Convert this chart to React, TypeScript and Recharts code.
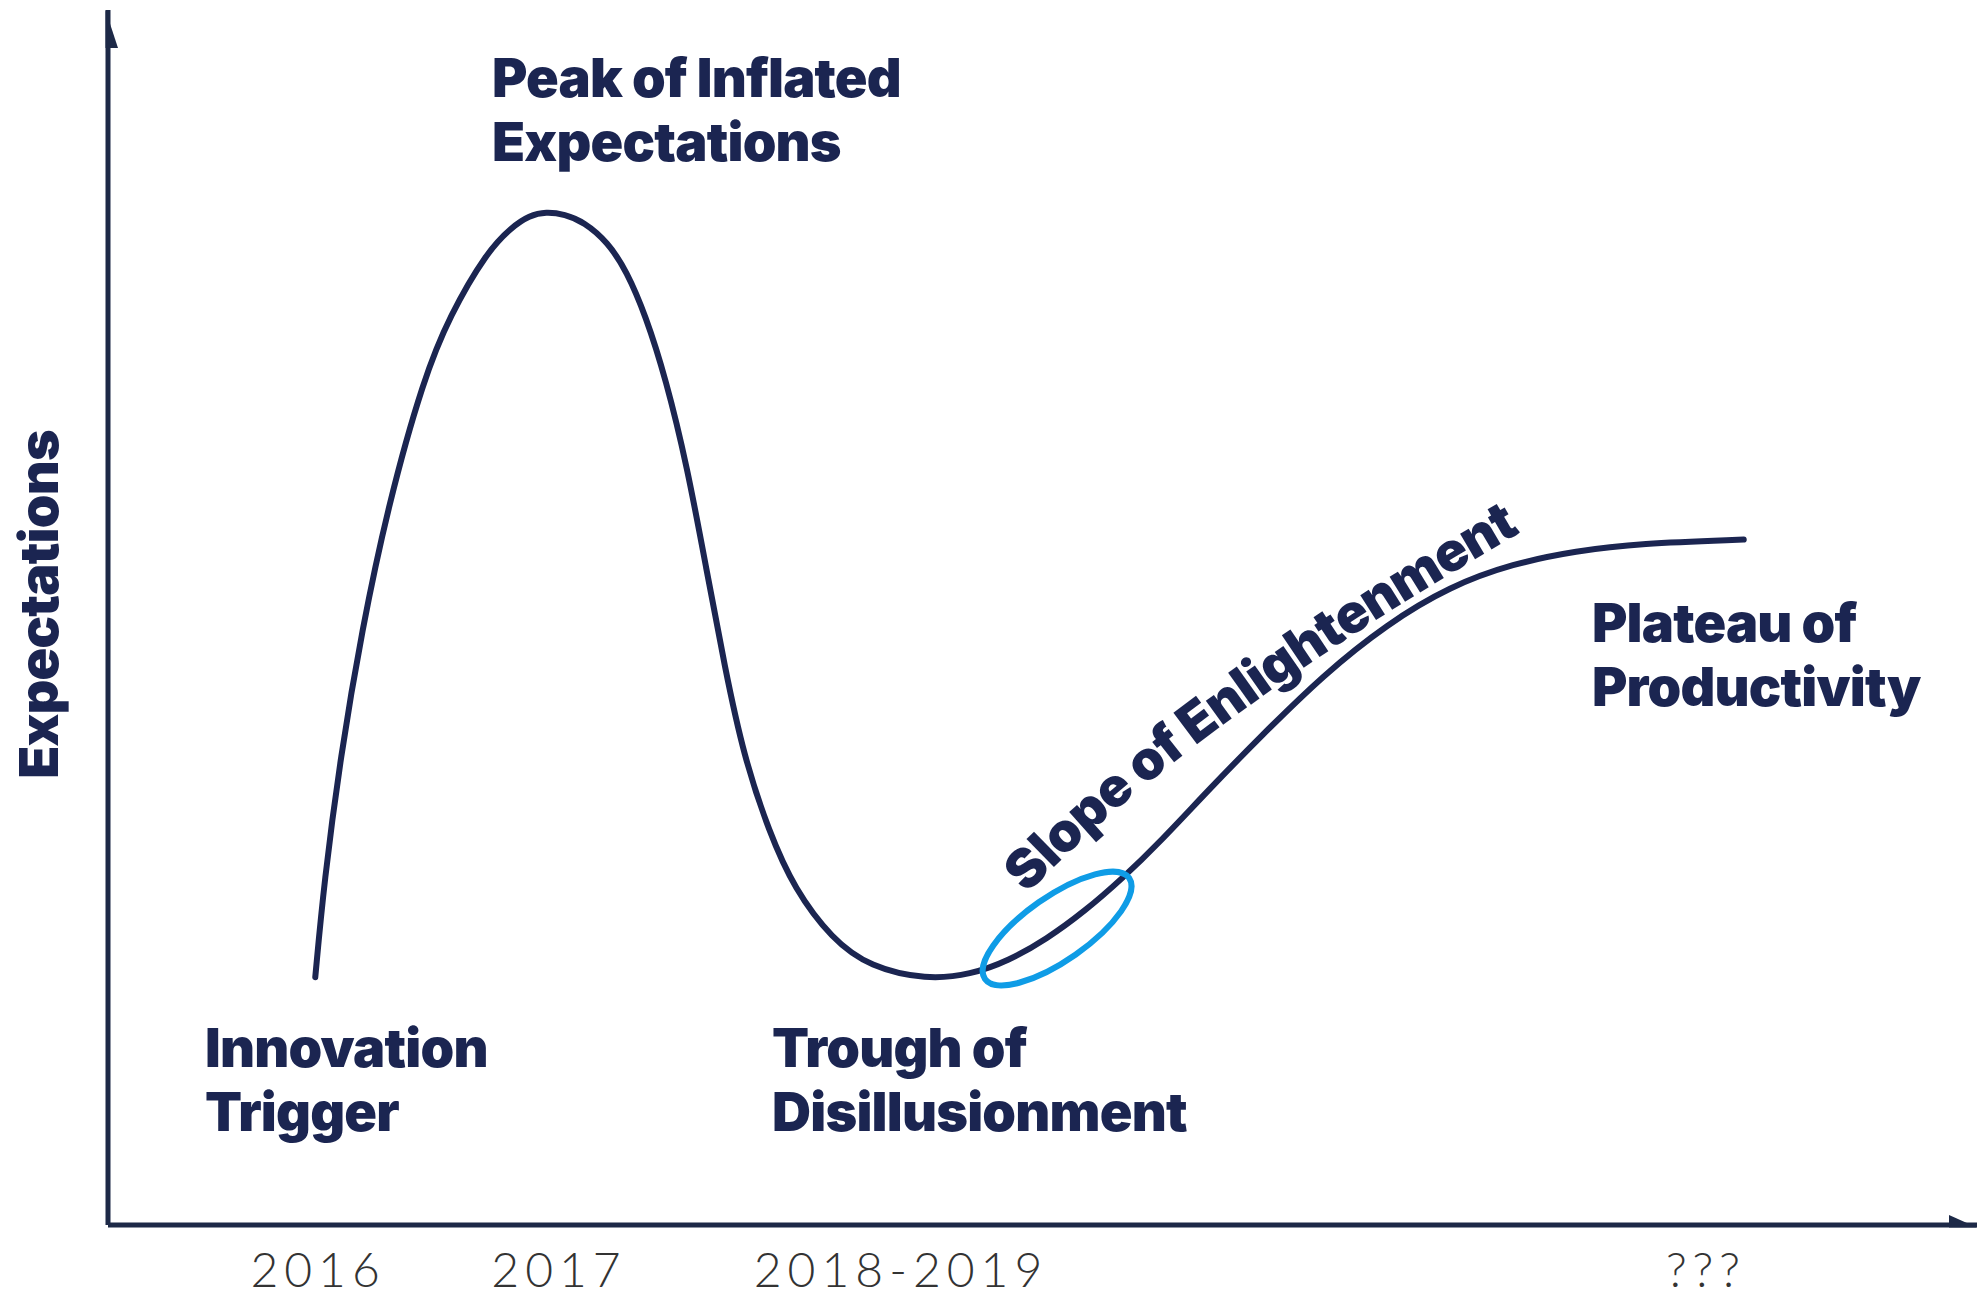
import React from 'react';
import { ComposedChart, Line, XAxis, YAxis, ReferenceDot } from 'recharts';

// ---- data (x: time units 0..100, y: expectations 0..100) ----
const curveX = [11.09, 11.56, 12.44, 13.58, 15.0, 16.89, 18.3, 20.26, 21.61, 22.55, 23.43, 24.44, 25.46, 26.74, 27.75, 28.76, 29.84, 30.99, 32.0, 33.01, 34.02, 35.37, 36.72, 38.74, 40.77, 43.8, 46.16, 48.19, 50.21, 52.24, 54.26, 56.28, 58.98, 61.68, 65.05, 68.43, 71.8, 75.17, 78.55, 81.92, 87.52];
const curveY = [20.4, 28.19, 38.56, 48.94, 59.32, 69.69, 74.88, 80.07, 82.14, 83.08, 83.39, 83.18, 82.56, 80.9, 78.51, 74.88, 69.69, 62.43, 54.13, 45.83, 38.56, 32.34, 27.67, 23.52, 21.23, 20.19, 20.61, 21.75, 23.52, 25.8, 28.5, 31.51, 35.97, 40.22, 45.31, 49.46, 52.57, 54.44, 55.48, 56.1, 56.41];

const tickPositions = [11.24, 24.13, 42.43, 85.5];
const tickLabels = ['2016', '2017', '2018-2019', '???'];

const phaseLines = [
  ['Peak of Inflated', 'Expectations'],
  ['Innovation', 'Trigger'],
  ['Trough of', 'Disillusionment'],
  ['Plateau of', 'Productivity'],
];
const phaseX = [20.55, 5.19, 35.53, 79.4];
const phaseY = [92.84, 13.0, 13.0, 47.98];

const slopeLabel = 'Slope of Enlightenment';
const slopeX = 62.41;
const slopeY = 42.06;

const highlightX = 50.78;
const highlightY = 24.4;

const yAxisTitle = 'Expectations';

const data = curveX.map((x, i) => ({ x, y: curveY[i] }));

const NAVY = '#1b2551';
const AXIS = '#1d2947';
const BLUE = '#0f9ce6';
const LABEL_FONT = 'Inter, "DejaVu Sans", sans-serif';
const FS = 54;
const LH = 64;
const LW = 900;
const LS = -0.8;

const tickFmt = (v: number) => {
  const i = tickPositions.indexOf(v);
  return i >= 0 ? tickLabels[i] : '';
};

const PhaseShape = (lines: string[]) => (props: any) => {
  const { cx, cy } = props;
  return (
    <text x={cx} y={cy} fill={NAVY} fontFamily={LABEL_FONT} fontWeight={LW} fontSize={FS} letterSpacing={LS}>
      {lines.map((l, i) => (
        <tspan key={i} x={cx} dy={i === 0 ? 0 : LH}>{l}</tspan>
      ))}
    </text>
  );
};

const SlopeShape = (props: any) => {
  const { cx, cy } = props;
  const d = `M${cx - 250.5},${cy + 184} Q${cx - 91.5},${cy + 13.5} ${cx + 250.5},${cy - 184}`;
  return (
    <g>
      <defs>
        <path id="slopeTextPath" d={d} fill="none" />
      </defs>
      <text fill={NAVY} fontFamily={LABEL_FONT} fontWeight={LW} fontSize={FS} letterSpacing={LS}>
        <textPath href="#slopeTextPath" startOffset="50%" textAnchor="middle">
          {slopeLabel}
        </textPath>
      </text>
    </g>
  );
};

const EllipseShape = (props: any) => {
  const { cx, cy } = props;
  return (
    <ellipse cx={cx} cy={cy} rx={88} ry={32} fill="none" stroke={BLUE} strokeWidth={6}
      transform={`rotate(-35 ${cx} ${cy})`} />
  );
};

const YArrow = (props: any) => {
  const { cx, cy } = props;
  return <path d={`M${cx - 2.5},${cy} L${cx + 10},${cy + 38} L${cx - 2.5},${cy + 38} Z`} fill={AXIS} />;
};

const XArrow = (props: any) => {
  const { cx, cy } = props;
  return <path d={`M${cx},${cy + 2.5} L${cx - 28},${cy - 10} L${cx - 28},${cy + 2.5} Z`} fill={AXIS} />;
};

const YTitle = (props: any) => {
  const vb = props.viewBox || { x: 0, y: 0, width: 0, height: 0 };
  const x = 58;
  const y = vb.y + vb.height / 2 - 13;
  return (
    <text x={x} y={y} fill={NAVY} fontFamily={LABEL_FONT} fontWeight={LW} fontSize={FS} letterSpacing={LS}
      textAnchor="middle" transform={`rotate(-90 ${x} ${y})`}>
      {yAxisTitle}
    </text>
  );
};

export default function App() {
  return (
    <div style={{ position: 'absolute', left: 0, top: 0, width: 1977, height: 1295, background: '#fff' }}>
      <ComposedChart width={1977} height={1295} data={data} margin={{ top: 10, right: 0, bottom: 0, left: 0 }}>
        <XAxis
          dataKey="x"
          type="number"
          domain={[0, 100]}
          ticks={tickPositions}
          interval={0}
          tickFormatter={tickFmt}
          tickLine={false}
          tickMargin={22}
          height={70}
          axisLine={{ stroke: AXIS, strokeWidth: 5 }}
          tick={{ fill: '#333333', fontSize: 48, fontFamily: 'Lato, "Open Sans", sans-serif', fontWeight: 300, letterSpacing: 6 }}
        />
        <YAxis
          type="number"
          domain={[0, 100]}
          width={108}
          tick={false}
          tickLine={false}
          axisLine={{ stroke: AXIS, strokeWidth: 5 }}
          label={{ content: YTitle }}
        />
        <Line
          type="basis"
          dataKey="y"
          stroke={NAVY}
          strokeWidth={6}
          dot={false}
          activeDot={false}
          strokeLinecap="round"
          isAnimationActive={false}
        />
        {phaseLines.map((lines, i) => (
          <ReferenceDot key={i} x={phaseX[i]} y={phaseY[i]} ifOverflow="visible" shape={PhaseShape(lines)} />
        ))}
        <ReferenceDot x={slopeX} y={slopeY} ifOverflow="visible" shape={SlopeShape} />
        <ReferenceDot x={highlightX} y={highlightY} ifOverflow="visible" shape={EllipseShape} />
        <ReferenceDot x={0} y={100} ifOverflow="visible" shape={YArrow} />
        <ReferenceDot x={100} y={0} ifOverflow="visible" shape={XArrow} />
      </ComposedChart>
    </div>
  );
}
